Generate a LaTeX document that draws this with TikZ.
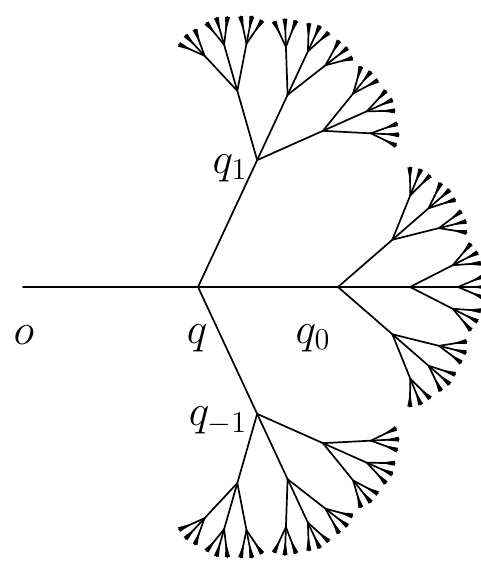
\documentclass[tikz,border=0pt]{standalone}
\tikzset{
  branch/.style={line width=1.7pt, line cap=round, line join=round},
  wedge/.style={fill=black},
  lab/.style={inner sep=0pt, font=\huge}
}
\newcommand\treelabel[1]{\scalebox{2.1}{$#1$}}
\newcommand\brtree[4]{%
  \begingroup
  \ifcase#4\relax \def\brsp{65}\def\brlen{140}%
  \or \def\brsp{41}\def\brlen{72}%
  \or \def\brsp{27}\def\brlen{48}%
  \or \def\brsp{23}\def\brlen{28}%
  \fi
  \foreach \brd in {-1,0,1}{%
    \pgfmathsetmacro\brang{#3+\brd*\brsp}%
    \pgfmathsetmacro\brx{#1+\brlen*cos(\brang)}%
    \pgfmathsetmacro\bry{#2+\brlen*sin(\brang)}%
    \draw[branch] (#1,#2) -- (\brx,\bry);%
    \ifnum#4<3
      \edef\brnext{\noexpand\brtree{\brx}{\bry}{\brang}{\the\numexpr#4+1\relax}}%
      \brnext
    \else
      \fill[wedge] ([shift={(\brang+90:2.5)}]\brx,\bry) -- ([shift={(\brang-90:2.5)}]\brx,\bry) -- ([shift={(\brang:-15)}]\brx,\bry) -- cycle;%
    \fi
  }%
  \endgroup
}
\begin{document}
\begin{tikzpicture}[x=1pt,y=1pt]
\useasboundingbox (0,0) rectangle (481,562);
\coordinate (o) at (23,275);
\coordinate (q) at (198,275);
\coordinate (q0) at (338,275);
\coordinate (q1) at (257.17,401.88);
\coordinate (qm1) at (257.17,148.12);
\draw[branch] (o) -- (q);
\draw[branch] (q) -- (q0);
\draw[branch] (q) -- (q1);
\draw[branch] (q) -- (qm1);
\brtree{257.17}{401.88}{65}{1}
\brtree{338}{275}{0}{1}
\brtree{257.17}{148.12}{-65}{1}
\node[lab] (lo) at (24,227) {\treelabel{o}};
\node[lab] (lq) at (197,224) {\treelabel{q}};
\node[lab] (lq0) at (313,224) {\treelabel{q_0}};
\node[lab] (lq1) at (230,394) {\treelabel{q_1}};
\node[lab] (lqm1) at (218,141) {\treelabel{q_{-1}}};
\end{tikzpicture}
\end{document}
